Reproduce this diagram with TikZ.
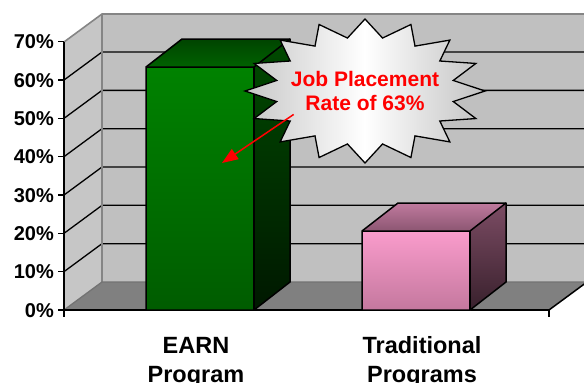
\documentclass[tikz,border=0pt]{standalone}
\usepackage{fontspec}
\setmainfont{Liberation Sans}
\usetikzlibrary{arrows.meta}
\definecolor{wallc}{HTML}{C0C0C0}
\definecolor{sidewallc}{HTML}{C6C6C6}
\definecolor{floorc}{HTML}{808080}
\definecolor{edgec}{HTML}{858585}
\definecolor{earnFrontTop}{HTML}{008200}
\definecolor{earnFrontBot}{HTML}{005C00}
\definecolor{earnTopBack}{HTML}{004400}
\definecolor{earnTopFront}{HTML}{006200}
\definecolor{earnSideTop}{HTML}{004A00}
\definecolor{earnSideBot}{HTML}{001800}
\definecolor{pinkFrontTop}{HTML}{FA9CCC}
\definecolor{pinkFrontBot}{HTML}{C4789E}
\definecolor{pinkTopBack}{HTML}{C07A9E}
\definecolor{pinkTopFront}{HTML}{8C5672}
\definecolor{pinkSideTop}{HTML}{7C4C64}
\definecolor{pinkSideBot}{HTML}{38202C}
\begin{document}
\begin{tikzpicture}[x=1pt,y=-1pt,
  gridline/.style={black, line width=1.3pt},
  walledge/.style={draw=edgec, line width=1.6pt},
  barline/.style={draw=black, line width=1.5pt, line join=round},
  axisline/.style={black, line width=1.5pt},
  ticklab/.style={anchor=base east, inner sep=0pt, font=\fontsize{20}{20}\selectfont\bfseries},
  catlab/.style={anchor=base, inner sep=0pt, font=\fontsize{23.5}{25}\selectfont\bfseries},
  burstlab/.style={text=red, align=center, inner sep=0pt, font=\fontsize{21}{24}\selectfont\bfseries}]
\useasboundingbox (0,0) rectangle (584,383);
\clip (0,0) rectangle (584,383);
% walls and floor
\fill[sidewallc] (64,310) -- (102,282) -- (102,14) -- (64,42) -- cycle;
\fill[wallc] (102,14) rectangle (592,282);
\fill[floorc] (64,310) -- (549,310) -- (587,282) -- (102,282) -- cycle;
% gridlines
\foreach \k in {1,...,6} {
  \draw[gridline] (64,{310-38.33*\k}) -- (102,{282-38.33*\k}) -- (592,{282-38.33*\k});
}
% wall edges
\draw[walledge] (64,42) -- (102,14) -- (592,14);
\draw[walledge] (102,14) -- (102,282);
\draw[draw=black!55, line width=1.3pt] (64,310) -- (102,282) -- (592,282);
\draw[axisline] (549,310) -- (587,282);
% axes
\draw[axisline] (64,42) -- (64,317);
\foreach \k in {0,...,7} {
  \draw[axisline] (58,{310-38.33*\k}) -- (64,{310-38.33*\k});
}
\draw[axisline] (64,310) -- (549,310) -- (549,317);
% tick labels
\node[ticklab] (t0) at (54,317.2) {0\%};
\node[ticklab] (t1) at (54,278.9) {10\%};
\node[ticklab] (t2) at (54,240.5) {20\%};
\node[ticklab] (t3) at (54,202.2) {30\%};
\node[ticklab] (t4) at (54,163.9) {40\%};
\node[ticklab] (t5) at (54,125.5) {50\%};
\node[ticklab] (t6) at (54,87.2) {60\%};
\node[ticklab] (t7) at (54,48.9) {70\%};
% EARN bar
\shade[top color=earnFrontTop, bottom color=earnFrontBot] (146,67) rectangle (254,310);
\shade[top color=earnTopBack, bottom color=earnTopFront] (146,67) -- (254,67) -- (290,39) -- (182,39) -- cycle;
\shade[top color=earnSideTop, bottom color=earnSideBot] (254,67) -- (290,39) -- (290,282) -- (254,310) -- cycle;
\draw[barline] (146,310) -- (146,67) -- (182,39) -- (290,39) -- (290,282) -- (254,310) -- cycle;
\draw[barline] (146,67) -- (254,67) -- (290,39);
\draw[barline] (254,67) -- (254,310);
% Traditional bar
\shade[top color=pinkFrontTop, bottom color=pinkFrontBot] (362,231) rectangle (470,310);
\shade[top color=pinkTopBack, bottom color=pinkTopFront] (362,231) -- (470,231) -- (506,203) -- (398,203) -- cycle;
\shade[top color=pinkSideTop, bottom color=pinkSideBot] (470,231) -- (506,203) -- (506,282) -- (470,310) -- cycle;
\draw[barline] (362,310) -- (362,231) -- (398,203) -- (506,203) -- (506,282) -- (470,310) -- cycle;
\draw[barline] (362,231) -- (470,231) -- (506,203);
\draw[barline] (470,231) -- (470,310);
% category labels
\node[catlab] (earnA) at (196,353.5) {EARN};
\node[catlab] (earnB) at (196,382) {Program};
\node[catlab] (tradA) at (422,353.5) {Traditional};
\node[catlab] (tradB) at (422,382) {Programs};
% starburst
\shadedraw[left color=black!22, right color=black!24, middle color=white, line width=1.3pt, line join=miter]
  plot[samples at={0,...,31}, variable=\t]
  ({365+120*(1-0.25*mod(\t,2))*cos(\t*11.25)}, {91-72*(1-0.25*mod(\t,2))*sin(\t*11.25)}) -- cycle;
\node[burstlab] (burst) at (365,91.5) {Job Placement\\Rate of 63\%};
\coordinate (tip) at (222,163);
\draw[red, line width=1.5pt, -{Triangle[length=16pt,width=12pt]}] ([shift={(3,3)}]burst.south west) -- (tip);
\end{tikzpicture}
\end{document}
